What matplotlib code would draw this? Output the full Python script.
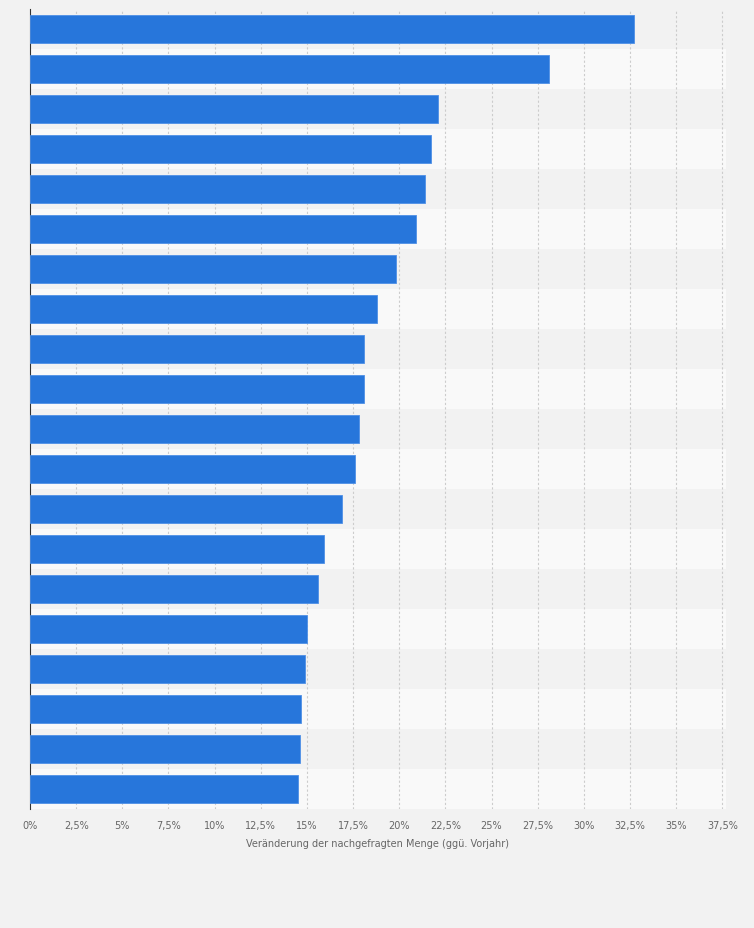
import matplotlib
matplotlib.use("Agg")
import matplotlib.pyplot as plt
import numpy as np

values = [32.7, 28.1, 22.1, 21.7, 21.4, 20.9, 19.8, 18.8, 18.1, 18.1,
          17.8, 17.6, 16.9, 15.9, 15.6, 15.0, 14.9, 14.7, 14.6, 14.5]
xticks = [0, 2.5, 5, 7.5, 10, 12.5, 15, 17.5, 20, 22.5, 25, 27.5, 30, 32.5, 35, 37.5]
xticklabels = ["0%", "2,5%", "5%", "7,5%", "10%", "12,5%", "15%", "17,5%", "20%",
               "22,5%", "25%", "27,5%", "30%", "32,5%", "35%", "37,5%"]
xlabel = "Veränderung der nachgefragten Menge (ggü. Vorjahr)"

fig = plt.figure(figsize=(7.54, 9.29), dpi=100, facecolor="#f2f2f2")
ax = fig.add_axes([30/754, 1-810/929, 696/754, 800/929])
ax.set_facecolor("#f2f2f2")
n = len(values)
y = np.arange(n)
for i in range(n):
    ax.axhspan(i-0.5, i+0.5, color="#f2f2f2" if i % 2 == 0 else "#f9f9f9", zorder=0, lw=0)
ax.barh(y, values, height=0.7, color="#2776db", edgecolor="#4f90e6", linewidth=0.6, zorder=3)
ax.set_ylim(n-0.5, -0.5)
ax.set_xlim(0, 37.7)
ax.set_xticks(xticks)
ax.set_xticklabels(xticklabels, fontsize=7, color="#666666")
ax.tick_params(axis="x", length=0, pad=8)
ax.set_yticks([])
for xv in xticks[1:]:
    ax.axvline(xv, color="#cccccc", lw=0.8, ls=(0, (2, 2)), zorder=1)
ax.set_xlabel(xlabel, fontsize=7, color="#666666", labelpad=6)
for s in ["top", "right", "bottom"]:
    ax.spines[s].set_visible(False)
ax.spines["left"].set_color("#333333")
ax.spines["left"].set_linewidth(0.8)
fig.savefig("out.png", dpi=100, facecolor=fig.get_facecolor())
